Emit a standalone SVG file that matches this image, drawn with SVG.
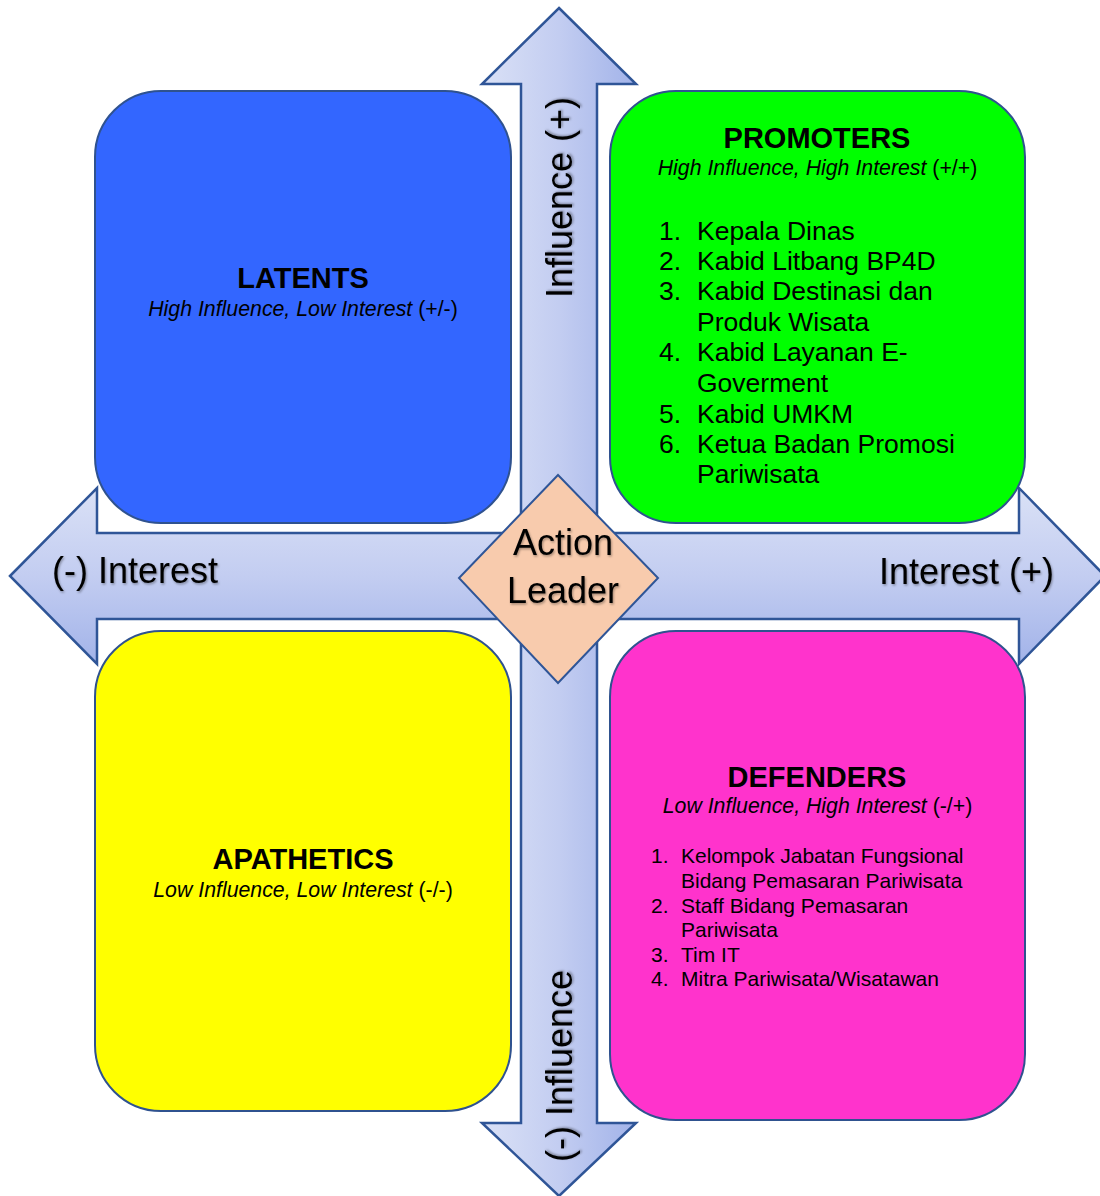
<svg xmlns="http://www.w3.org/2000/svg" width="1100" height="1196" viewBox="0 0 1100 1196">
  <defs>
    <linearGradient id="gv" x1="0" y1="0" x2="1" y2="0">
      <stop offset="0" stop-color="#dae1f6"/>
      <stop offset="0.5" stop-color="#c3cdf1"/>
      <stop offset="1" stop-color="#a2b3e9"/>
    </linearGradient>
    <linearGradient id="gh" x1="0" y1="0" x2="0" y2="1">
      <stop offset="0" stop-color="#dae1f6"/>
      <stop offset="0.5" stop-color="#c3cdf1"/>
      <stop offset="1" stop-color="#a2b3e9"/>
    </linearGradient>
    <filter id="sh" x="-10%" y="-20%" width="120%" height="140%">
      <feDropShadow dx="1" dy="1.5" stdDeviation="1" flood-color="#000" flood-opacity="0.35"/>
    </filter>
    <style>
      .arrow { stroke: #2f5597; stroke-width: 2.5; stroke-linejoin: miter; }
      .box { stroke: #2f528f; stroke-width: 2; }
      .lbl { font-family: "Liberation Sans", Arial, sans-serif; font-size: 36px; fill: #000; filter: url(#sh); }
      .title { font-family: "Liberation Sans", Arial, sans-serif; font-size: 29px; font-weight: bold; fill: #000; text-anchor: middle; }
      .sub { font-family: "Liberation Sans", Arial, sans-serif; font-size: 21.3px; fill: #000; text-anchor: middle; }
      .it { font-style: italic; }
      .lp { font-family: "Liberation Sans", Arial, sans-serif; font-size: 26.5px; fill: #000; }
      .ld { font-family: "Liberation Sans", Arial, sans-serif; font-size: 21px; fill: #000; }
    </style>
  </defs>

  <g id="connectors">
    <polygon id="interest-axis" class="arrow" fill="url(#gh)" points="10,576 97,488 97,533 1019,533 1019,488 1105,576 1019,664 1019,619 97,619 97,664"/>
    <polygon id="influence-axis" class="arrow" fill="url(#gv)" points="559,8 636,84 597,84 597,1123 636,1123 559,1196 482,1123 521,1123 521,84 482,84"/>
    <text class="lbl" x="52" y="583">(-) Interest</text>
    <text class="lbl" x="879" y="584">Interest (+)</text>
    <text class="lbl" transform="translate(572,298) rotate(-90)">Influence (+)</text>
    <text class="lbl" transform="translate(572,1162) rotate(-90)">(-) Influence</text>
  </g>

  <g id="latents">
    <rect class="box" x="95" y="91" width="416" height="432" rx="66" ry="66" fill="#3366ff"/>
    <text class="title" x="303" y="288">LATENTS</text>
    <text class="sub" x="303" y="316"><tspan class="it">High Influence, Low Interest</tspan> (+/-)</text>
  </g>

  <g id="promoters">
    <rect class="box" x="610" y="91" width="415" height="432" rx="66" ry="66" fill="#00ff00"/>
    <text class="title" x="817" y="148">PROMOTERS</text>
    <text class="sub" x="817.5" y="175"><tspan class="it">High Influence, High Interest</tspan> (+/+)</text>
    <text class="lp" x="659" y="240">1.</text><text class="lp" x="697" y="240">Kepala Dinas</text>
    <text class="lp" x="659" y="270">2.</text><text class="lp" x="697" y="270">Kabid Litbang BP4D</text>
    <text class="lp" x="659" y="300">3.</text><text class="lp" x="697" y="300">Kabid Destinasi dan</text>
    <text class="lp" x="697" y="331">Produk Wisata</text>
    <text class="lp" x="659" y="361">4.</text><text class="lp" x="697" y="361">Kabid Layanan E-</text>
    <text class="lp" x="697" y="392">Goverment</text>
    <text class="lp" x="659" y="423">5.</text><text class="lp" x="697" y="423">Kabid UMKM</text>
    <text class="lp" x="659" y="453">6.</text><text class="lp" x="697" y="453">Ketua Badan Promosi</text>
    <text class="lp" x="697" y="483">Pariwisata</text>
  </g>

  <g id="apathetics">
    <rect class="box" x="95" y="631" width="416" height="480" rx="66" ry="66" fill="#ffff00"/>
    <text class="title" x="303" y="869">APATHETICS</text>
    <text class="sub" x="303" y="897"><tspan class="it">Low Influence, Low Interest</tspan> (-/-)</text>
  </g>

  <g id="defenders">
    <rect class="box" x="610" y="631" width="415" height="489" rx="66" ry="66" fill="#ff33cc"/>
    <text class="title" x="817" y="787">DEFENDERS</text>
    <text class="sub" x="817.5" y="813"><tspan class="it">Low Influence, High Interest</tspan> (-/+)</text>
    <text class="ld" x="651" y="863">1.</text><text class="ld" x="681" y="863">Kelompok Jabatan Fungsional</text>
    <text class="ld" x="681" y="888">Bidang Pemasaran Pariwisata</text>
    <text class="ld" x="651" y="913">2.</text><text class="ld" x="681" y="913">Staff Bidang Pemasaran</text>
    <text class="ld" x="681" y="937">Pariwisata</text>
    <text class="ld" x="651" y="962">3.</text><text class="ld" x="681" y="962">Tim IT</text>
    <text class="ld" x="651" y="986">4.</text><text class="ld" x="681" y="986">Mitra Pariwisata/Wisatawan</text>
  </g>

  <g id="action-leader">
    <polygon points="558,475 658,578 558,683 459,578" fill="#f8cbad" stroke="#2f5597" stroke-width="2"/>
    <text class="lbl" x="563" y="555" text-anchor="middle">Action</text>
    <text class="lbl" x="563" y="603" text-anchor="middle">Leader</text>
  </g>
</svg>
